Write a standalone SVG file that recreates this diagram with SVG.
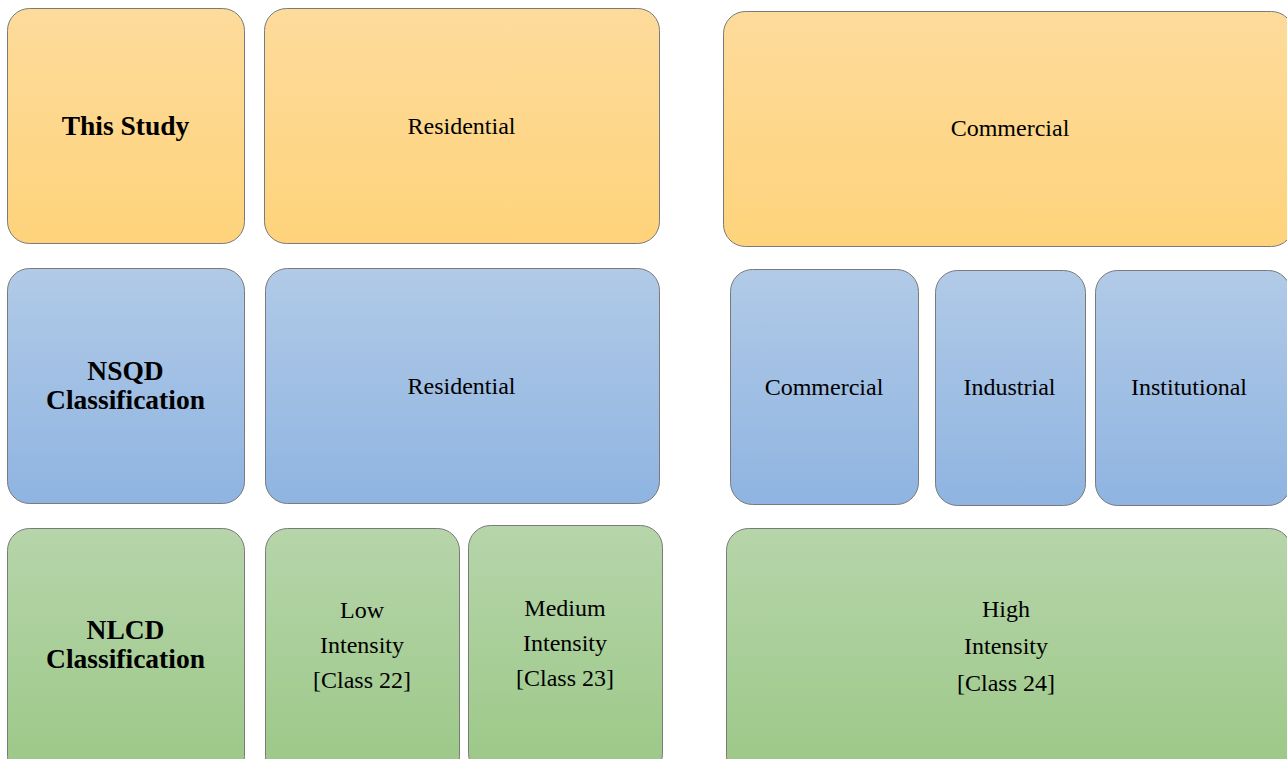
<svg xmlns="http://www.w3.org/2000/svg" width="1287" height="759" viewBox="0 0 1287 759">
<defs>
<linearGradient id="gO" x1="0" y1="0" x2="0" y2="1"><stop offset="0" stop-color="#fddb9b"/><stop offset="1" stop-color="#fed37b"/></linearGradient>
<linearGradient id="gB" x1="0" y1="0" x2="0" y2="1"><stop offset="0" stop-color="#b1cae7"/><stop offset="1" stop-color="#8fb4e1"/></linearGradient>
<linearGradient id="gG" x1="0" y1="0" x2="0" y2="1"><stop offset="0" stop-color="#b6d5aa"/><stop offset="1" stop-color="#9cc887"/></linearGradient>
<style>
.box{stroke:#7a7a7a;stroke-width:1}
.o{fill:url(#gO)}.b{fill:url(#gB)}.g{fill:url(#gG)}
text{font-family:"Liberation Serif","Times New Roman",serif;fill:#000;text-anchor:middle}
.r{font-size:24px}
.h{font-size:27.5px;font-weight:bold}
</style>
</defs>
<g id="this-study"><rect class="box o" x="7.5" y="8.5" width="237" height="235" rx="22"/><text class="h" x="125.5" y="135">This Study</text></g>
<g id="residential-study"><rect class="box o" x="264.5" y="8.5" width="395" height="235" rx="22"/><text class="r" x="461.5" y="134">Residential</text></g>
<g id="commercial-study"><rect class="box o" x="723.5" y="11.5" width="570" height="235" rx="22"/><text class="r" x="1010" y="136">Commercial</text></g>
<g id="nsqd"><rect class="box b" x="7.5" y="268.5" width="237" height="235" rx="22"/><text class="h" x="125.5" y="380">NSQD</text><text class="h" x="125.5" y="409">Classification</text></g>
<g id="residential-nsqd"><rect class="box b" x="265.5" y="268.5" width="394" height="235" rx="22"/><text class="r" x="461.5" y="394">Residential</text></g>
<g id="commercial-nsqd"><rect class="box b" x="730.5" y="269.5" width="188" height="235" rx="22"/><text class="r" x="824" y="395">Commercial</text></g>
<g id="industrial-nsqd"><rect class="box b" x="935.5" y="270.5" width="150" height="235" rx="22"/><text class="r" x="1009.5" y="395">Industrial</text></g>
<g id="institutional-nsqd"><rect class="box b" x="1095.5" y="270.5" width="195" height="235" rx="22"/><text class="r" x="1189" y="395">Institutional</text></g>
<g id="nlcd"><rect class="box g" x="7.5" y="528.5" width="237" height="250" rx="22"/><text class="h" x="125.5" y="639">NLCD</text><text class="h" x="125.5" y="668">Classification</text></g>
<g id="low"><rect class="box g" x="265.5" y="528.5" width="194" height="250" rx="22"/><text class="r" x="362" y="618">Low</text><text class="r" x="362" y="653">Intensity</text><text class="r" x="362" y="688">[Class 22]</text></g>
<g id="medium"><rect class="box g" x="468.5" y="525.5" width="194" height="250" rx="22"/><text class="r" x="565" y="616">Medium</text><text class="r" x="565" y="651">Intensity</text><text class="r" x="565" y="686">[Class 23]</text></g>
<g id="high"><rect class="box g" x="726.5" y="528.5" width="565" height="250" rx="22"/><text class="r" x="1006" y="617">High</text><text class="r" x="1006" y="654">Intensity</text><text class="r" x="1006" y="691">[Class 24]</text></g>
<g id="connectors"></g>
</svg>
